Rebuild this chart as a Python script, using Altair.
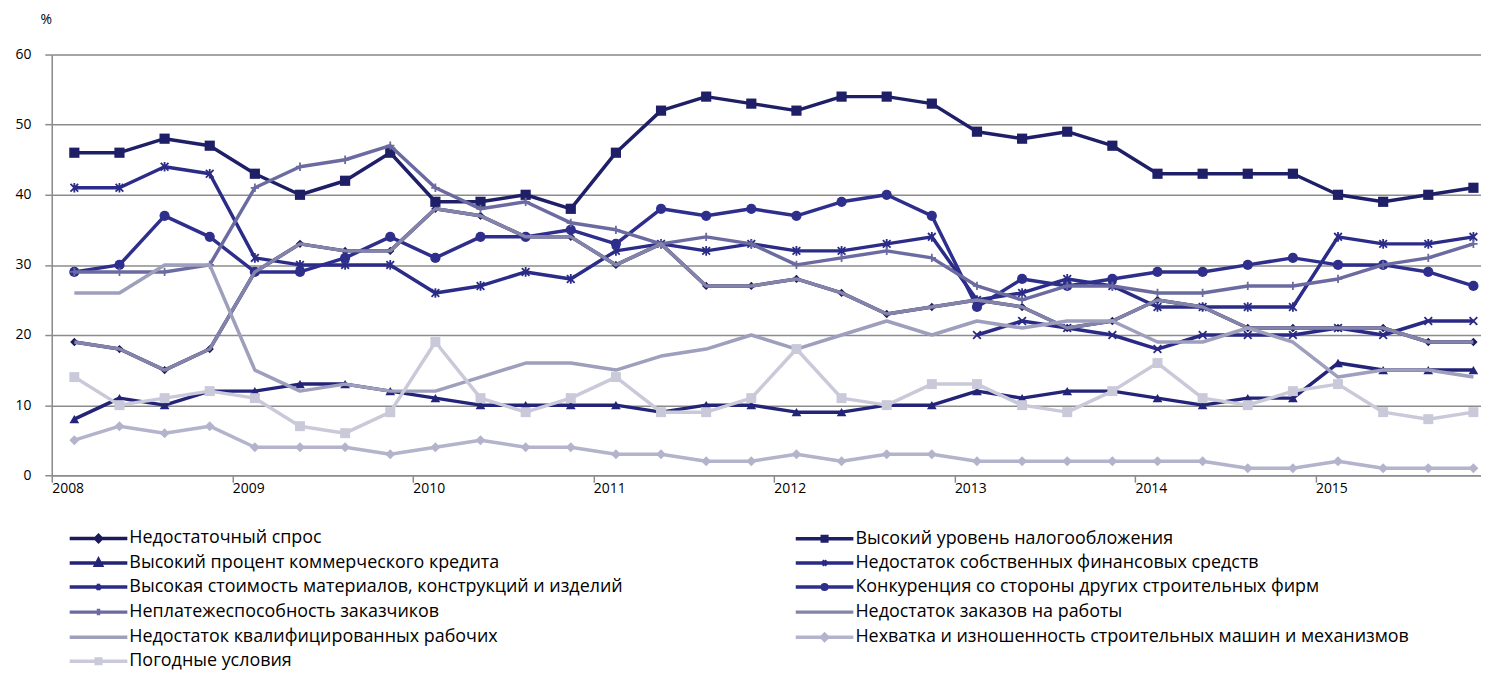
import altair as alt
import pandas as pd

# ---------------- data ----------------
years = [2008, 2009, 2010, 2011, 2012, 2013, 2014, 2015]
quarter_offsets = [0.125, 0.375, 0.625, 0.875]
periods = [y + q for y in years for q in quarter_offsets]

series_names = [
    "Недостаточный спрос",
    "Высокий уровень налогообложения",
    "Высокий процент коммерческого кредита",
    "Недостаток собственных финансовых средств",
    "Высокая стоимость материалов, конструкций и изделий",
    "Конкуренция со стороны других строительных фирм",
    "Неплатежеспособность заказчиков",
    "Недостаток заказов на работы",
    "Недостаток квалифицированных рабочих",
    "Нехватка и изношенность строительных машин и механизмов",
    "Погодные условия",
]

demand = [19, 18, 15, 18, 29, 33, 32, 32, 38, 37, 34, 34, 30, 33, 27, 27,
          28, 26, 23, 24, 25, 24, 21, 22, 25, 24, 21, 21, 21, 21, 19, 19]
taxes = [46, 46, 48, 47, 43, 40, 42, 46, 39, 39, 40, 38, 46, 52, 54, 53,
         52, 54, 54, 53, 49, 48, 49, 47, 43, 43, 43, 43, 40, 39, 40, 41]
credit = [8, 11, 10, 12, 12, 13, 13, 12, 11, 10, 10, 10, 10, 9, 10, 10,
          9, 9, 10, 10, 12, 11, 12, 12, 11, 10, 11, 11, 16, 15, 15, 15]
own_funds = [None] * 20 + [20, 22, 21, 20, 18, 20, 20, 20, 21, 20, 22, 22]
materials = [41, 41, 44, 43, 31, 30, 30, 30, 26, 27, 29, 28, 32, 33, 32, 33,
             32, 32, 33, 34, 25, 26, 28, 27, 24, 24, 24, 24, 34, 33, 33, 34]
competition = [29, 30, 37, 34, 29, 29, 31, 34, 31, 34, 34, 35, 33, 38, 37, 38,
               37, 39, 40, 37, 24, 28, 27, 28, 29, 29, 30, 31, 30, 30, 29, 27]
insolvency = [29, 29, 29, 30, 41, 44, 45, 47, 41, 38, 39, 36, 35, 33, 34, 33,
              30, 31, 32, 31, 27, 25, 27, 27, 26, 26, 27, 27, 28, 30, 31, 33]
orders = [19, 18, 15, 18, 29, 33, 32, 32, 38, 37, 34, 34, 30, 33, 27, 27,
          28, 26, 23, 24, 25, 24, 21, 22, 25, 24, 21, 21, 21, 21, 19, 19]
workers = [26, 26, 30, 30, 15, 12, 13, 12, 12, 14, 16, 16, 15, 17, 18, 20,
           18, 20, 22, 20, 22, 21, 22, 22, 19, 19, 21, 19, 14, 15, 15, 14]
machines = [5, 7, 6, 7, 4, 4, 4, 3, 4, 5, 4, 4, 3, 3, 2, 2,
            3, 2, 3, 3, 2, 2, 2, 2, 2, 2, 1, 1, 2, 1, 1, 1]
weather = [14, 10, 11, 12, 11, 7, 6, 9, 19, 11, 9, 11, 14, 9, 9, 11,
           18, 11, 10, 13, 13, 10, 9, 12, 16, 11, 10, 12, 13, 9, 8, 9]

all_values = [demand, taxes, credit, own_funds, materials, competition,
              insolvency, orders, workers, machines, weather]

colors = ["#1b1b5c", "#1f1f68", "#232378", "#2a2a86", "#2b2b88", "#2e2e8c",
          "#6b6ba1", "#8484aa", "#9e9ebd", "#b3b3cb", "#c9c9d9"]

year_ticks = [2008, 2009, 2010, 2011, 2012, 2013, 2014, 2015]
y_ticks = [0, 10, 20, 30, 40, 50, 60]

# ---------------- styling ----------------
FONT = "Open Sans"
X_PATH = "M-1,-1L1,1M-1,1L1,-1"
AST_PATH = "M-1,-1L1,1M-1,1L1,-1M0,-1.25V1.25"
PLUS_PATH = "M0,-1V1M-1,0H1"

# marker: (shape, size, filled, strokeWidth) ; None = no marker
markers = [
    ("diamond", 70, True, 0),
    ("square", 105, True, 0),
    ("triangle-up", 95, True, 0),
    (X_PATH, 60, False, 1.8),
    (AST_PATH, 60, False, 1.8),
    ("circle", 105, True, 0),
    (PLUS_PATH, 70, False, 1.8),
    None,
    None,
    ("diamond", 100, True, 0),
    ("square", 100, True, 0),
]

# legend symbols: a long line (+-4 units) with a small marker in the middle
L = "M-4,0H4"
legend_paths = [
    L + "M0,-0.42L0.42,0L0,0.42L-0.42,0Z",
    L + "M-0.32,-0.32H0.32V0.32H-0.32Z",
    L + "M0,-0.45L0.4,0.3H-0.4Z",
    L + "M-0.32,-0.32L0.32,0.32M-0.32,0.32L0.32,-0.32",
    L + "M-0.32,-0.32L0.32,0.32M-0.32,0.32L0.32,-0.32M0,-0.45V0.45",
    L + "M-0.32,0A0.32,0.32 0 1,1 0.32,0A0.32,0.32 0 1,1 -0.32,0Z",
    L + "M0,-0.45V0.45",
    L,
    L,
    L + "M0,-0.42L0.42,0L0,0.42L-0.42,0Z",
    L + "M-0.32,-0.32H0.32V0.32H-0.32Z",
]

rows = []
for si, (name, vals) in enumerate(zip(series_names, all_values)):
    for t, v in zip(periods, vals):
        if v is not None:
            rows.append({"series": name, "order": si, "t": t, "value": v})
df = pd.DataFrame(rows)

color_scale = alt.Scale(domain=series_names, range=colors)

x_enc = alt.X(
    "t:Q",
    scale=alt.Scale(domain=[2008, 2015.917], nice=False, zero=False),
    axis=alt.Axis(
        values=year_ticks, format="d", title=None, grid=False,
        domainColor="#8c8c8c", domainWidth=1.5, tickColor="#8c8c8c", tickWidth=1.5,
        tickSize=7, labelAlign="left", labelBaseline="middle", labelPadding=6,
        labelFont=FONT, labelFontSize=14, labelColor="#000000",
    ),
)
y_enc = alt.Y(
    "value:Q",
    scale=alt.Scale(domain=[0, 60], nice=False),
    axis=alt.Axis(
        values=y_ticks, title="%", titleAngle=0, titleX=-6, titleY=-35,
        titleAlign="center", titleBaseline="middle", titleFont=FONT,
        titleFontSize=14, titleFontWeight="normal", titleColor="#000000",
        grid=True, gridColor="#8c8c8c", gridWidth=1.5,
        domainColor="#8c8c8c", domainWidth=1.5, tickColor="#8c8c8c", tickWidth=1.5,
        tickSize=7, labelPadding=14, labelFont=FONT, labelFontSize=14,
        labelColor="#000000",
    ),
)

legend_kw = dict(
    title=None, orient="none", legendX=38, legendY=477, columns=2,
    direction="horizontal", columnPadding=166, rowPadding=3.2, padding=0,
    offset=0, symbolSize=210, symbolStrokeWidth=3.5, symbolOpacity=1,
    labelFont=FONT, labelFontSize=18, labelColor="#000000",
    labelLimit=900, labelOffset=22,
)

base = alt.Chart(df)

# legend-only layer (no marks drawn)
legend_layer = base.transform_filter("false").mark_point(
    filled=False, strokeWidth=3.5, opacity=1
).encode(
    x=x_enc, y=y_enc,
    color=alt.Color("series:N", scale=color_scale, legend=alt.Legend(**legend_kw)),
    shape=alt.Shape(
        "series:N", scale=alt.Scale(domain=series_names, range=legend_paths),
        legend=alt.Legend(**legend_kw),
    ),
)

layers = [legend_layer]
for si, name in enumerate(series_names):
    sub = base.transform_filter(alt.datum.series == name)
    layers.append(
        sub.mark_line(strokeWidth=3.5, strokeJoin="round").encode(
            x=x_enc, y=y_enc,
            color=alt.Color("series:N", scale=color_scale, legend=None),
        )
    )
    m = markers[si]
    if m is not None:
        shape, size, filled, sw = m
        kw = dict(shape=shape, size=size, filled=filled, opacity=1)
        if not filled:
            kw["strokeWidth"] = sw
        layers.append(
            sub.mark_point(**kw).encode(
                x=x_enc, y=y_enc,
                color=alt.Color("series:N", scale=color_scale, legend=None),
            )
        )

chart = alt.layer(*layers).properties(
    width=1437, height=423,
    autosize=alt.AutoSizeParams(type="none"),
    padding={"left": 44, "top": 45, "right": 0, "bottom": 194},
).configure_view(stroke=None).configure(background="white")

chart.save("out.html", embed_options={"renderer": "svg", "actions": False})
